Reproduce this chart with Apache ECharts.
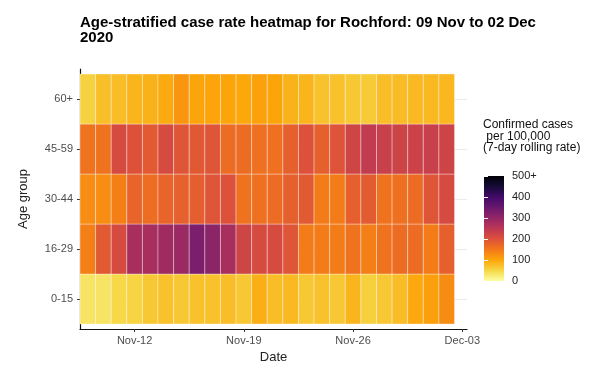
<!DOCTYPE html>
<html><head><meta charset="utf-8">
<script src="https://cdn.jsdelivr.net/npm/echarts@6/dist/echarts.min.js"></script>
<style>html,body{margin:0;padding:0;background:#fff}#c{width:589px;height:372px}</style>
</head><body><div id="c"></div>
<script>
const titleText = 'Age-stratified case rate heatmap for Rochford: 09 Nov to 02 Dec\n2020';
const legendTitle = 'Confirmed cases\n per 100,000\n(7-day rolling rate)';
const xAxisName = 'Date';
const yAxisName = 'Age group';
const dates = ['2020-11-09','2020-11-10','2020-11-11','2020-11-12','2020-11-13','2020-11-14','2020-11-15','2020-11-16',
  '2020-11-17','2020-11-18','2020-11-19','2020-11-20','2020-11-21','2020-11-22','2020-11-23','2020-11-24',
  '2020-11-25','2020-11-26','2020-11-27','2020-11-28','2020-11-29','2020-11-30','2020-12-01','2020-12-02'];
const ageGroups = ['0-15','16-29','30-44','45-59','60+'];
const rate0to15  = [34,34,49,53,65,71,65,71,71,76,65,90,76,80,65,71,65,84,57,65,76,97,106,128];
const rate16to29 = [142,188,212,274,274,284,291,328,308,274,223,212,212,195,146,146,146,158,142,158,166,166,146,181];
const rate30to44 = [127,127,142,176,163,176,180,183,195,200,158,160,165,181,188,146,146,181,186,158,160,166,195,212];
const rate45to59 = [158,158,212,200,188,212,195,190,195,165,165,160,160,181,200,181,198,223,241,232,225,228,232,225];
const rate60plus = [55,74,76,85,87,95,118,100,101,100,98,105,100,87,84,71,72,65,62,76,77,80,80,82];
const xTickDates = ['2020-11-12','2020-11-19','2020-11-26','2020-12-03'];
const xTickLabels = ['Nov-12','Nov-19','Nov-26','Dec-03'];
const legendTicks = [0,100,200,300,400,500];
const legendTickLabels = ['0','100','200','300','400','500+'];
const paletteLowToHigh = ['#fcffa4','#f6d746','#fca50a','#f37819','#dd513a','#bc3754','#932667','#6a176e','#420a68','#160b39','#000004'];

const rateRows = [rate0to15, rate16to29, rate30to44, rate45to59, rate60plus];
const dayMs = 86400000;
const dayIndex = d => Math.round((Date.parse(d) - Date.parse(dates[0])) / dayMs);
const tickDays = xTickDates.map(dayIndex);
const rowVals = ageGroups.map((g, i) => i + 1);

const cells = [];
rateRows.forEach((row, r) => row.forEach((v, i) => cells.push([dayIndex(dates[i]), r + 1, v])));

const FONT = 'Liberation Sans, Arial, sans-serif';
const chart = echarts.init(document.getElementById('c'), null, {renderer: 'canvas'});
chart.setOption({
  backgroundColor: '#fff',
  animation: false,
  title: [
    {text: titleText, left: 80, top: 15, padding: 0,
     textStyle: {fontSize: 15, fontWeight: 'bold', fontFamily: FONT, color: '#000', lineHeight: 15}},
    {text: legendTitle, left: 483, top: 119, padding: 0,
     textStyle: {fontSize: 12, fontWeight: 'normal', fontFamily: FONT, color: '#111', lineHeight: 11.5}}
  ],
  grid: [
    {left: 80, top: 69, width: 387, height: 260},
    {left: 484, top: 176, width: 20, height: 105}
  ],
  visualMap: {
    type: 'continuous', show: false, min: 0, max: 500, dimension: 2, seriesIndex: 0,
    inRange: {color: paletteLowToHigh}
  },
  xAxis: [
    {type: 'value', gridIndex: 0, min: -0.5, max: 24.3,
     name: xAxisName, nameLocation: 'middle', nameGap: 22,
     nameTextStyle: {fontSize: 13, fontFamily: FONT, color: '#222'},
     axisLine: {show: true, onZero: false, lineStyle: {color: '#111', width: 1.2}},
     axisTick: {show: true, customValues: tickDays, length: 3, lineStyle: {color: '#333', width: 1}},
     axisLabel: {customValues: tickDays, margin: 6, fontSize: 11, fontFamily: FONT, color: '#4d4d4d',
       formatter: v => xTickLabels[tickDays.indexOf(v)]},
     splitLine: {show: false}},
    {type: 'value', gridIndex: 1, min: 0, max: 1, show: false}
  ],
  yAxis: [
    {type: 'value', gridIndex: 0, min: 0.4, max: 5.6,
     name: yAxisName, nameLocation: 'middle', nameGap: 50, nameRotate: 90,
     nameTextStyle: {fontSize: 13, fontFamily: FONT, color: '#222'},
     axisLine: {show: true, onZero: false, lineStyle: {color: '#111', width: 1.2}},
     axisTick: {show: true, customValues: rowVals, length: 3, lineStyle: {color: '#333', width: 1}},
     axisLabel: {customValues: rowVals, margin: 7, fontSize: 11, fontFamily: FONT, color: '#4d4d4d',
       formatter: v => ageGroups[v - 1]},
     splitLine: {show: true, lineStyle: {color: '#ebebeb', width: 1}}},
    {type: 'value', gridIndex: 1, min: 0, max: 500, interval: 100, position: 'right',
     axisLine: {show: false},
     axisTick: {show: true, inside: true, length: 4, lineStyle: {color: '#fff', width: 1}},
     axisLabel: {margin: 8, fontSize: 11, fontFamily: FONT, color: '#222',
       formatter: v => legendTickLabels[legendTicks.indexOf(v)]},
     splitLine: {show: false}, z: 10},
    {type: 'value', gridIndex: 1, min: 0, max: 500, interval: 100, position: 'left',
     axisLine: {show: false},
     axisTick: {show: true, inside: true, length: 4, lineStyle: {color: '#fff', width: 1}},
     axisLabel: {show: false}, splitLine: {show: false}, z: 10}
  ],
  series: [
    {type: 'custom', xAxisIndex: 0, yAxisIndex: 0, data: cells, encode: {x: 0, y: 1},
     renderItem: (params, api) => {
       const x = api.value(0), y = api.value(1);
       const p0 = api.coord([x - 0.5, y + 0.5]);
       const p1 = api.coord([x + 0.5, y - 0.5]);
       return {type: 'rect',
         shape: {x: p0[0], y: p0[1], width: p1[0] - p0[0], height: p1[1] - p0[1]},
         style: {fill: api.visual('color'), stroke: 'rgba(255,255,255,0.35)', lineWidth: 1}};
     }},
    {type: 'custom', xAxisIndex: 1, yAxisIndex: 1, data: [[0, legendTicks[legendTicks.length - 1]]],
     renderItem: (params, api) => {
       const top = api.coord([0, api.value(1)]);
       const bot = api.coord([1, 0]);
       const stops = paletteLowToHigh.map((c, i) => ({offset: i / (paletteLowToHigh.length - 1), color: c}));
       return {type: 'rect',
         shape: {x: top[0], y: top[1], width: bot[0] - top[0], height: bot[1] - top[1]},
         style: {fill: new echarts.graphic.LinearGradient(0, 1, 0, 0, stops)}};
     }}
  ]
});
</script>
</body></html>
